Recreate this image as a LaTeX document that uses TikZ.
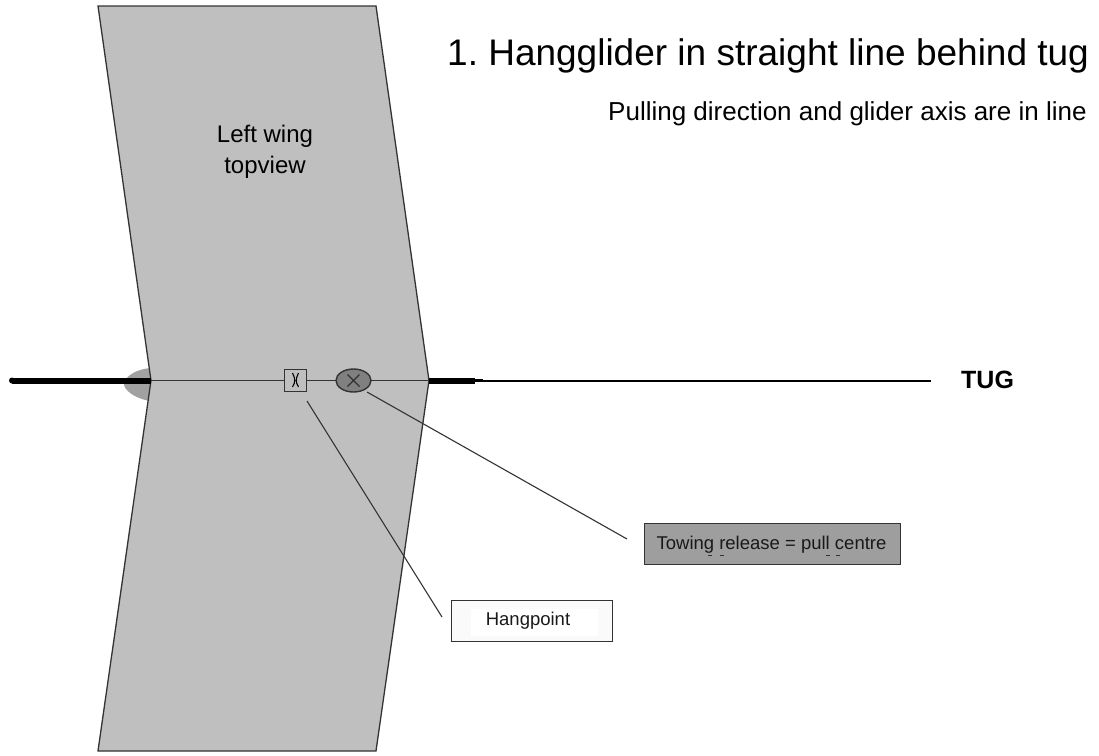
\documentclass[tikz,border=0pt]{standalone}
\usepackage{fontspec}
\usetikzlibrary{shapes.geometric}
\setmainfont{Liberation Sans}
\frenchspacing
\definecolor{wing}{gray}{0.75}
\definecolor{tipgrey}{gray}{0.63}
\definecolor{relgrey}{gray}{0.5}
\definecolor{boxgrey}{gray}{0.62}
\definecolor{linegrey}{gray}{0.2}
\tikzset{
 x=1pt,y=-1pt,
 thinline/.style={draw=linegrey,line width=1.3pt},
 leader/.style={draw=linegrey,line width=1.1pt},
 lab/.style={font=\fontsize{18.5}{22}\selectfont,text=black!90,inner sep=0pt,anchor=base},
 labelbox/.style={draw=linegrey,line width=1.4pt,inner sep=0pt,anchor=north west},
}
\begin{document}
\begin{tikzpicture}
\useasboundingbox (0,0) rectangle (1099,755);
\fill[white] (0,0) rectangle (1099,755);
% wing tip
\fill[tipgrey] (151,368) .. controls (137,369) and (124,376) .. (124,385) .. controls (126,393) and (140,400) .. (151,401) -- cycle;
% wing
\draw[fill=wing,draw=linegrey,line width=1.3pt] (98,6) coordinate (w1) -- (376,6) -- (429,380.5) coordinate (wr) -- (376,751) -- (98,751) -- (151,380.5) coordinate (wl) -- cycle;
\coordinate (tailend) at (12,380.5);
\coordinate (stubA) at (475,380.5);
\coordinate (stubB) at (483,380.5);
\coordinate (tugend) at (931,380.5);
\draw[thinline] (wl) -- (wr);
\draw[line width=2pt,black] (stubA) -- (tugend);
\draw[line width=6pt,black] (tailend) -- (wl);
\fill[black] (tailend) circle (3pt);
\draw[line width=6pt,black] (wr) -- (stubA);
\draw[line width=3pt,black] (stubA) -- (stubB);
% hang point and release
\node[draw=linegrey,line width=1.4pt,minimum size=22.5pt,inner sep=0pt,fill=wing] (hang) at (295.5,380.5) {};
\draw[line width=1.1pt,black] (292.5,373) .. controls (295.5,379) and (295.5,382) .. (292.5,387) (298.5,373) .. controls (295.5,379) and (295.5,382) .. (298.5,387);
\node[draw=linegrey,line width=1.4pt,ellipse,minimum width=35pt,minimum height=23pt,inner sep=0pt,fill=relgrey] (rel) at (353.5,380.5) {};
\draw[line width=1.1pt,linegrey] (347.5,374.5) -- (359.5,386.5) (359.5,374.5) -- (347.5,386.5);
% label boxes
\node[labelbox,fill=boxgrey,minimum width=256pt,minimum height=41pt] (towbox) at (644,522.5) {};
\node[lab] (towtext) at (771.5,549) {Towing release = pull centre};
\draw[line width=0.8pt,linegrey] (708,555.5) -- (712,555.5) (720,555.5) -- (724,555.5) (826,555.5) -- (830,555.5) (836,555.5) -- (840,555.5);
\node[labelbox,fill=white!98!black,minimum width=161pt,minimum height=41pt] (hangbox) at (451,600) {};
\fill[white] (471,609) rectangle (598,636);
\node[lab] (hangtext) at (528,625) {Hangpoint};
% leaders
\coordinate (hangA) at (307,401);
\coordinate (hangB) at (442,617);
\coordinate (relA) at (367,392);
\coordinate (relB) at (627,539);
\draw[leader] (hangA) -- (hangB);
\draw[leader] (relA) -- (relB);
% texts
\node[font=\fontsize{37}{44}\selectfont,inner sep=0pt,anchor=base west] (title) at (447,65) {1. Hangglider in straight line behind tug};
\node[font=\fontsize{26}{31}\selectfont,inner sep=0pt,anchor=base west] (sub) at (608,120) {Pulling direction and glider axis are in line};
\node[font=\fontsize{24}{31}\selectfont,inner sep=0pt,anchor=base] (wingtext1) at (265,142) {Left wing};
\node[font=\fontsize{24}{31}\selectfont,inner sep=0pt,anchor=base] (wingtext2) at (265,173) {topview};
\node[font=\bfseries\fontsize{25}{30}\selectfont,inner sep=0pt,anchor=base west] (tug) at (961,388) {TUG};
\end{tikzpicture}
\end{document}
